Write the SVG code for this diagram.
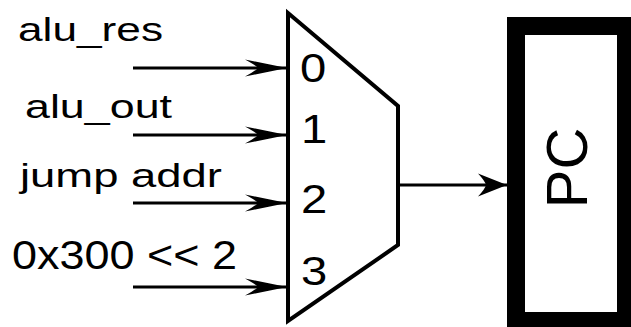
<svg xmlns="http://www.w3.org/2000/svg" width="631" height="327" viewBox="0 0 631 327">
<style>
text{font-family:"Liberation Sans",Arial,sans-serif;fill:#000}
.lbl{font-size:34px}
.dig{font-size:40px}
.wire{stroke:#000;stroke-width:3;fill:none}
</style>
<defs>
<marker id="ah" markerUnits="userSpaceOnUse" markerWidth="46" markerHeight="22" refX="44" refY="11" orient="auto" viewBox="0 0 46 22">
<path d="M44,11 L2,2.5 Q13,8.5 15,11 Q13,13.5 2,19.5 Z" fill="#000"/>
</marker>
<marker id="ah2" markerUnits="userSpaceOnUse" markerWidth="32" markerHeight="26" refX="30" refY="13" orient="auto" viewBox="0 0 32 26">
<path d="M30,13 L1,1.5 Q8,9 9,13 Q8,17 1,24.5 Z" fill="#000"/>
</marker>
</defs>
<g id="labels">
<text class="lbl" x="18" y="41" textLength="145" lengthAdjust="spacingAndGlyphs">alu_res</text>
<text class="lbl" x="25" y="118" textLength="147" lengthAdjust="spacingAndGlyphs">alu_out</text>
<text class="lbl" x="20" y="187" textLength="202" lengthAdjust="spacingAndGlyphs">jump addr</text>
<text class="dig" x="12" y="269" textLength="225" lengthAdjust="spacingAndGlyphs">0x300 &lt;&lt; 2</text>
</g>
<g id="mux">
<polygon points="288,13 398,106 398,245 288,321" fill="#fff" stroke="#000" stroke-width="4" stroke-linejoin="miter"/>
<text class="dig" transform="translate(300,82) scale(1.18,1)">0</text>
<text class="dig" transform="translate(301,143) scale(1.18,1)">1</text>
<text class="dig" transform="translate(301,213) scale(1.18,1)">2</text>
<text class="dig" transform="translate(301,285) scale(1.18,1)">3</text>
</g>
<g id="pc">
<rect x="516" y="26" width="110" height="295" fill="#fff" stroke="#000" stroke-width="18"/>
<text transform="translate(587,168) rotate(-90)" text-anchor="middle" style="font-size:58px">PC</text>
</g>
<g id="connectors">
<line class="wire" x1="133" y1="68" x2="287" y2="68" marker-end="url(#ah)"/>
<line class="wire" x1="133" y1="135" x2="287" y2="135" marker-end="url(#ah)"/>
<line class="wire" x1="133" y1="203" x2="287" y2="203" marker-end="url(#ah)"/>
<line class="wire" x1="133" y1="287" x2="287" y2="287" marker-end="url(#ah)"/>
<line class="wire" x1="398" y1="185" x2="507" y2="185" marker-end="url(#ah2)"/>
</g>
</svg>
